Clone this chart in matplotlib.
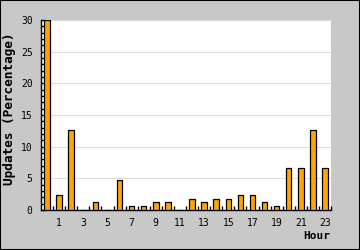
import matplotlib
matplotlib.use("Agg")
import matplotlib.pyplot as plt
from matplotlib.patches import Rectangle
from matplotlib.ticker import MultipleLocator, FixedLocator

horas = list(range(24))
updates = [30.0, 2.3, 12.6, 0, 1.2, 0, 4.7, 0.6, 0.6, 1.2, 1.2, 0,
           1.7, 1.2, 1.7, 1.7, 2.3, 2.3, 1.2, 0.6, 6.6, 6.6, 12.6, 6.6]
rotulos_x = [str(h) for h in horas if h % 2 == 1]
posicoes_x = [h for h in horas if h % 2 == 1]

plt.rcParams['font.family'] = ['DejaVu Sans Mono']

fig = plt.figure(figsize=(3.6, 2.5), dpi=100, facecolor="#c8c8c8")
fig.patches.append(Rectangle((0, 0), 1, 1, transform=fig.transFigure,
                             fill=False, edgecolor="black", linewidth=1.5))

ax = fig.add_axes([41 / 360, 40 / 250, 290 / 360, 190 / 250])
ax.set_facecolor("white")

ax.bar(horas, updates, width=0.45, color="#ffa500", edgecolor="black",
       linewidth=0.9, zorder=3)

ax.set_xlim(-0.5, 23.5)
ax.set_ylim(0, 30)

ax.xaxis.set_major_locator(FixedLocator(posicoes_x))
ax.set_xticklabels(rotulos_x, fontsize=7)
ax.xaxis.set_minor_locator(FixedLocator([h + 0.5 for h in horas]))
ax.tick_params(axis="x", which="major", length=0, pad=6)
ax.tick_params(axis="x", which="minor", direction="in", length=3, width=1)

ax.yaxis.set_major_locator(MultipleLocator(5))
ax.yaxis.set_minor_locator(MultipleLocator(1))
ax.tick_params(axis="y", which="both", direction="in", length=3, width=1,
               labelsize=7, pad=6)

ax.grid(axis="y", which="major", color="#dcdcdc", linewidth=0.8, zorder=0)
ax.set_axisbelow(True)

for lado in ["top", "right"]:
    ax.spines[lado].set_visible(False)
for lado in ["left", "bottom"]:
    ax.spines[lado].set_linewidth(1)

fig.text(10 / 360, 1 - 109 / 250, "Updates (Percentage)", rotation=90,
         fontsize=9.2, fontweight="bold", ha="center", va="center")
fig.text(330 / 360, 1 - 236 / 250, "Hour", fontsize=8, fontweight="bold",
         ha="right", va="center")

fig.savefig("out.png", dpi=100, facecolor=fig.get_facecolor())
